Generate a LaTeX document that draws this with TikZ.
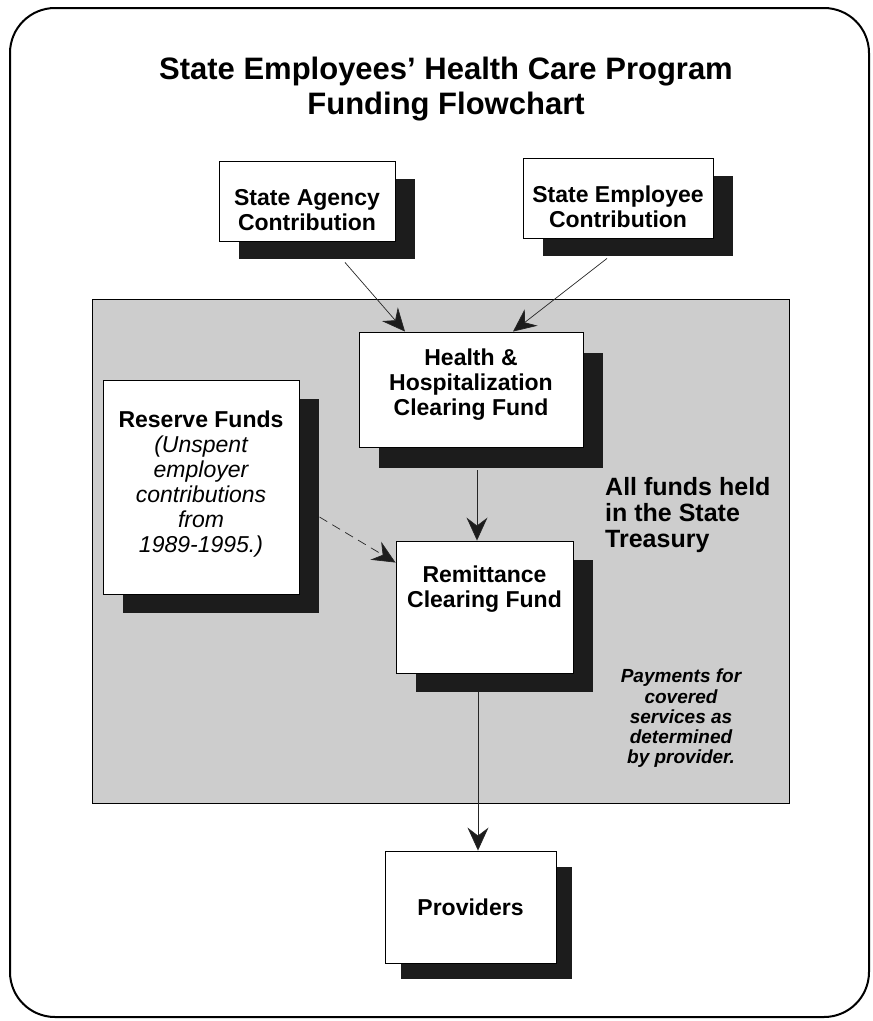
\documentclass[tikz,border=0pt]{standalone}
\usepackage{fontspec}
\setmainfont{Liberation Sans}
\usetikzlibrary{arrows.meta}
\usetikzlibrary{positioning}
\usetikzlibrary{shadows}
\definecolor{shadowgray}{HTML}{1C1C1C}
\definecolor{treasurygray}{HTML}{CDCDCD}
\tikzset{%
  fundbox/.style={rectangle,draw=black,fill=white,line width=0.9pt,inner sep=0pt,align=center,
    font=\fontsize{23}{25}\selectfont\bfseries},
  boxshadow/.style 2 args={drop shadow={shadow xshift=#1pt,shadow yshift=-#2pt,fill=shadowgray,opacity=1}},
  flowarrow/.style={-{Stealth[length=23pt,width=21pt,inset=8pt,fill=shadowgray]},line width=0.7pt,draw=black!85}
}
\newcommand\boxpad[3]{\rule{0pt}{#1pt}#3\rule[-#2pt]{0pt}{#2pt}}
\newcommand\ital[1]{{\mdseries\itshape #1}}

\begin{document}
\begin{tikzpicture}[x=1pt,y=-1pt]
  \useasboundingbox (0,0) rectangle (873,1021);
  \draw[line width=2pt,rounded corners=45pt] (10,8) rectangle (869,1017);
  \node[inner sep=0pt,align=center,font=\fontsize{31}{35}\selectfont\bfseries] (title) at (446,89.5)
    {State Employees’ Health Care Program\\Funding Flowchart};
  % state treasury area
  \draw[line width=0.8pt,fill=treasurygray] (92,299) rectangle (789,803);
  \node[fundbox,boxshadow={20}{18},minimum width=176pt] (agency) at (307,201)
    {\boxpad{44}{11}{State Agency\\Contribution}};
  \node[fundbox,boxshadow={20}{18},minimum width=190pt] (employee) at (618,198)
    {\boxpad{44}{11}{State Employee\\Contribution}};
  \node[fundbox,boxshadow={20}{21},minimum width=224pt] (hhcf) at (471,389.5)
    {\boxpad{33}{32}{Health \&\\Hospitalization\\Clearing Fund}};
  \node[fundbox,boxshadow={20}{19},minimum width=196pt] (reserve) at (201,487)
    {\boxpad{47}{42}{Reserve Funds\\\ital{(Unspent}\\\ital{employer}\\\ital{contributions}\\\ital{from}\\\ital{1989-1995.)}}};
  \node[fundbox,boxshadow={20}{19},minimum width=177pt] (remit) at (484.5,607)
    {\boxpad{41}{66}{Remittance\\Clearing Fund}};
  \node[fundbox,boxshadow={16}{16},minimum width=171pt] (providers) at (470.5,907)
    {\boxpad{64}{48}{Providers}};
  \node[anchor=north west,inner sep=0pt,align=left,font=\fontsize{25}{26}\selectfont\bfseries] (heldnote) at (605,477)
    {All funds held\\in the State\\Treasury};
  \node[anchor=north,inner sep=0pt,align=center,font=\fontsize{19}{20.2}\selectfont\bfseries\itshape] (paynote) at (681,669)
    {Payments for\\covered\\services as\\determined\\by provider.};
  % connectors
  \draw[flowarrow] ([xshift=38pt,yshift=-21pt]agency.south) -- ([xshift=-66pt]hhcf.north);
  \draw[flowarrow] ([xshift=-11pt,yshift=-20pt]employee.south) -- ([xshift=42pt]hhcf.north);
  \draw[flowarrow] ([xshift=6pt,yshift=-23pt]hhcf.south) -- ([xshift=6pt]hhcf.south |- remit.north);
  \draw[flowarrow,dash pattern=on 9pt off 6pt] ([xshift=20pt,yshift=-30pt]reserve.east) -- ([yshift=-22pt]remit.north west);
  \draw[flowarrow] ([xshift=-6.5pt,yshift=-19pt]remit.south) -- ([xshift=-6.5pt]remit.south |- providers.north);
\end{tikzpicture}
\end{document}
